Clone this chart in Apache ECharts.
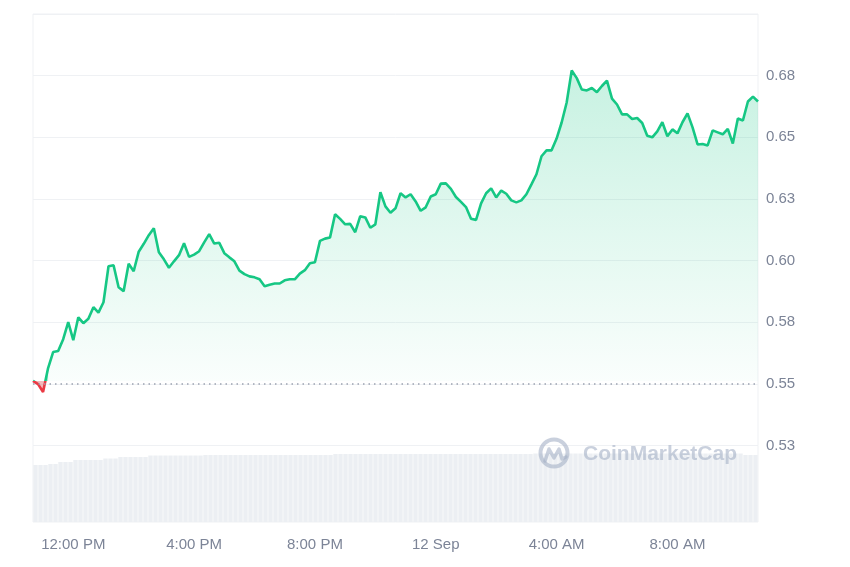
<!DOCTYPE html>
<html>
<head>
<meta charset="utf-8">
<script src="https://cdn.jsdelivr.net/npm/echarts@6/dist/echarts.min.js"></script>
<style>html,body{margin:0;padding:0;background:#fff;}#c{width:850px;height:567px;}</style>
</head>
<body>
<div id="c"></div>
<script>
// ---- data ----
const startLabel = { hour: 10, minute: 40 }; // first sample, 11 Sep
const stepMinutes = 10;
const tickLabels = ['12:00 PM', '4:00 PM', '8:00 PM', '12 Sep', '4:00 AM', '8:00 AM'];
const baseline = 0.5512;

const price = [
0.5512,0.5499,0.5467,0.5564,0.5629,0.5633,0.5681,0.5750,0.5677,0.5770,
0.5746,0.5764,0.5811,0.5789,0.5831,0.5977,0.5981,0.5892,0.5876,0.5987,
0.5957,0.6036,0.6068,0.6103,0.6131,0.6034,0.6005,0.5971,0.5997,0.6022,
0.6070,0.6015,0.6024,0.6038,0.6074,0.6107,0.6069,0.6072,0.6030,0.6013,
0.5997,0.5959,0.5945,0.5936,0.5932,0.5924,0.5896,0.5902,0.5907,0.5907,
0.5920,0.5924,0.5924,0.5947,0.5961,0.5989,0.5993,0.6080,0.6089,0.6094,
0.6188,0.6169,0.6147,0.6149,0.6115,0.6180,0.6175,0.6133,0.6147,0.6277,
0.6220,0.6194,0.6212,0.6273,0.6256,0.6269,0.6240,0.6202,0.6216,0.6260,
0.6269,0.6312,0.6313,0.6291,0.6258,0.6238,0.6217,0.6170,0.6165,0.6232,
0.6273,0.6293,0.6256,0.6284,0.6271,0.6244,0.6236,0.6244,0.6269,0.6309,
0.6350,0.6423,0.6447,0.6447,0.6495,0.6560,0.6641,0.6771,0.6740,0.6694,
0.6690,0.6700,0.6683,0.6708,0.6730,0.6657,0.6633,0.6593,0.6593,0.6574,
0.6578,0.6558,0.6506,0.6500,0.6524,0.6561,0.6504,0.6532,0.6516,0.6561,
0.6597,0.6540,0.6471,0.6473,0.6467,0.6528,0.6520,0.6512,0.6534,0.6475,
0.6576,0.6568,0.6645,0.6665,0.6645
];

const volume = [
57,57,57,58,58,60,60,60,62,62,
62,62,62,62,63.5,63.5,63.5,65,65,65,
65,65,65,66.5,66.5,66.5,66.5,66.5,66.5,66.5,
66.5,66.5,66.5,66.5,67,67,67,67,67,67,
67,67,67,67,67,67,67,67,67,67,
67,67,67,67,67,67,67,67,67,67,
68,68,68,68,68,68,68,68,68,68,
68,68,68,68,68,68,68,68,68,68,
68,68,68,68,68,68,68,68,68,68,
68,68,68,68,68,68,68,68,68,68,
68.5,68.5,68.5,68.5,68.5,68.5,68.5,68.5,68.5,68.5,
68.5,68.5,68.5,68.5,68.5,68.5,68.5,68.5,68.5,68.5,
68.5,68.5,68.5,68.5,68.5,68.5,68.5,68.5,68.5,68.5,
68.5,68.5,68.5,68.5,68.5,68.5,68.5,68.5,68.5,68.5,
68.5,68.5,67,67,67
];

// category labels (time of each sample)
const categories = [];
for (let i = 0; i < price.length; i++) {
  const total = startLabel.hour * 60 + startLabel.minute + i * stepMinutes;
  const h24 = Math.floor(total / 60) % 24;
  const m = total % 60;
  const day = total >= 24 * 60 ? 12 : 11;
  let label;
  if (h24 === 0 && m === 0) label = day + ' Sep';
  else {
    const h12 = h24 % 12 === 0 ? 12 : h24 % 12;
    label = h12 + ':' + String(m).padStart(2, '0') + ' ' + (h24 < 12 ? 'AM' : 'PM');
  }
  categories.push(label);
}
const redArea = price.map((v, i) => (i <= 3 ? v : null));

const textColor = '#7c8497';
const gridColor = '#eff1f4';
const font = 'Liberation Sans, Arial, sans-serif';
const markColor = 'rgba(165,176,198,0.6)';

const chart = echarts.init(document.getElementById('c'), null, { renderer: 'canvas' });
chart.setOption({
  animation: false,
  backgroundColor: '#fff',
  grid: [
    { left: 33, right: 92, top: 14, height: 431.5, show: true, borderColor: gridColor, borderWidth: 1, containLabel: false },
    { left: 33, right: 92, top: 445.5, bottom: 45, show: true, borderColor: gridColor, borderWidth: 1, containLabel: false }
  ],
  xAxis: [
    {
      type: 'category', gridIndex: 0, data: categories, boundaryGap: false,
      axisLine: { show: false }, axisTick: { show: false }, splitLine: { show: false },
      axisLabel: {
        margin: 92, color: textColor, fontSize: 15, fontFamily: font,
        interval: (i, v) => tickLabels.indexOf(v) >= 0
      }
    },
    {
      type: 'category', gridIndex: 1, data: categories, boundaryGap: true,
      axisLine: { show: false }, axisTick: { show: false }, axisLabel: { show: false }, splitLine: { show: false }
    }
  ],
  yAxis: [
    {
      type: 'value', gridIndex: 0, position: 'right', min: 0.525, max: 0.70, interval: 0.025,
      axisLine: { show: false }, axisTick: { show: false },
      splitLine: { show: true, lineStyle: { color: gridColor, width: 1 } },
      axisLabel: {
        margin: 8, color: textColor, fontSize: 15, fontFamily: font,
        showMaxLabel: false, showMinLabel: true,
        formatter: v => (v + 1e-9).toFixed(2)
      }
    },
    {
      type: 'value', gridIndex: 1, position: 'right', min: 0, max: 76.5,
      axisLine: { show: false }, axisTick: { show: false }, axisLabel: { show: false }, splitLine: { show: false }
    }
  ],
  visualMap: {
    type: 'piecewise', show: false, dimension: 1, seriesIndex: [0, 1],
    pieces: [
      { gte: 0.3, lt: baseline, color: '#ea3943' },
      { gte: baseline, lte: 1.0, color: '#16c784' }
    ],
    outOfRange: { color: '#16c784' }
  },
  series: [
    {
      type: 'line', xAxisIndex: 0, yAxisIndex: 0, data: price, showSymbol: false, symbol: 'none',
      lineStyle: { width: 2.6 }, z: 3,
      areaStyle: {
        origin: baseline,
        color: new echarts.graphic.LinearGradient(0, 0, 0, 1, [
          { offset: 0, color: 'rgba(22,199,132,0.34)' },
          { offset: 1, color: 'rgba(22,199,132,0.02)' }
        ])
      },
      markLine: {
        silent: true, symbol: 'none', label: { show: false },
        lineStyle: { type: [1.5, 4], color: '#9aa1b0', width: 1.5 },
        data: [{ yAxis: baseline }]
      }
    },
    {
      type: 'line', xAxisIndex: 0, yAxisIndex: 0, data: redArea, showSymbol: false, symbol: 'none',
      lineStyle: { width: 0, opacity: 0 }, z: 2,
      areaStyle: { origin: baseline, opacity: 0.35 }
    },
    {
      type: 'bar', xAxisIndex: 1, yAxisIndex: 1, data: volume, barCategoryGap: '12%',
      itemStyle: { color: '#eceff3' }, silent: true, z: 1
    }
  ],
  graphic: [
    {
      type: 'group', left: 538, top: 437, silent: true, z: 100,
      children: [
        { type: 'circle', z: 100, shape: { cx: 16, cy: 16, r: 13.5 }, style: { fill: 'none', stroke: markColor, lineWidth: 4 } },
        { type: 'polyline', z: 100, shape: { points: [[7, 24], [11, 12], [16, 21], [21, 12], [24, 22], [28, 20]] }, style: { fill: 'none', stroke: markColor, lineWidth: 3.5, lineJoin: 'round', lineCap: 'round' } },
        { type: 'text', z: 100, x: 45, y: 17, style: { text: 'CoinMarketCap', font: '600 21px ' + font, fill: markColor, verticalAlign: 'middle' } }
      ]
    }
  ]
});
</script>
</body>
</html>
